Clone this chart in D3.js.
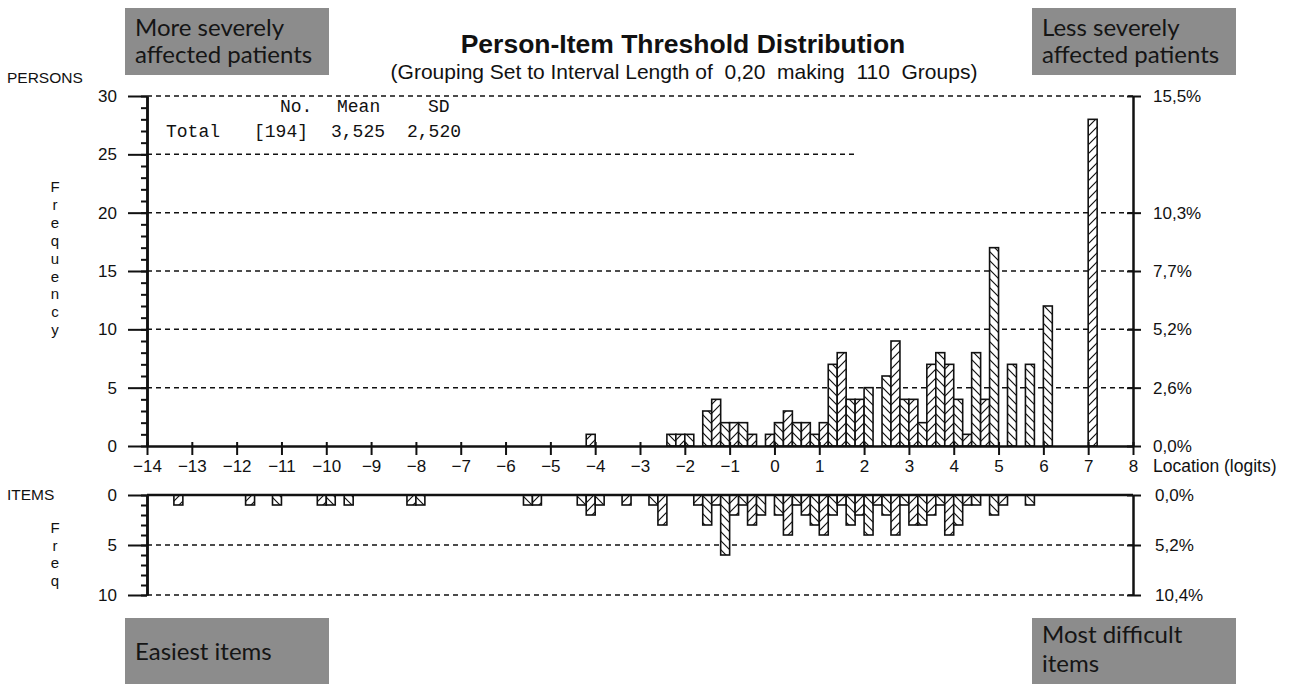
<!DOCTYPE html>
<html>
<head>
<meta charset="utf-8">
<script src="https://cdn.jsdelivr.net/npm/d3@7"></script>
<style>
  body { margin: 0; background: #fff; }
  svg text { font-family: "Liberation Sans", Arial, sans-serif; fill: #111; }
  .axis path, .axis line { stroke: #111; }
  .axis text { font-size: 17px; }
  text.mono { font-family: "Liberation Mono", "DejaVu Sans Mono", monospace; }
  text.note { font-family: Lato, "Open Sans", sans-serif; fill: #151515; }
</style>
</head>
<body>
<div id="chart"></div>
<script>
// lower edge (logits) of each 0,20 wide group and the number of persons in it
var personLocations = [-4.2, -2.4, -2.2, -2.0, -1.6, -1.4, -1.2, -1.0, -0.8, -0.6, -0.2, 0, 0.2, 0.4, 0.6, 0.8,
                       1.0, 1.2, 1.4, 1.6, 1.8, 2.0, 2.4, 2.6, 2.8, 3.0, 3.2, 3.4, 3.6, 3.8, 4.0, 4.2, 4.4, 4.6,
                       4.8, 5.2, 5.6, 6.0, 7.0];
var personCounts    = [1, 1, 1, 1, 3, 4, 2, 2, 2, 1, 1, 2, 3, 2, 2, 1,
                       2, 7, 8, 4, 4, 5, 6, 9, 4, 4, 2, 7, 8, 7, 4, 1, 8, 4,
                       17, 7, 7, 12, 28];

// same for the item thresholds
var itemLocations = [-13.4, -11.8, -11.2, -10.2, -10.0, -9.6, -8.2, -8.0, -5.6, -5.4, -4.4, -4.2, -4.0, -3.4,
                     -2.8, -2.6, -1.8, -1.6, -1.4, -1.2, -1.0, -0.8, -0.6, -0.4, 0, 0.2, 0.4, 0.6, 0.8, 1.0,
                     1.2, 1.4, 1.6, 1.8, 2.0, 2.2, 2.4, 2.6, 2.8, 3.0, 3.2, 3.4, 3.6, 3.8, 4.0, 4.2, 4.4,
                     4.8, 5.0, 5.6];
var itemCounts    = [1, 1, 1, 1, 1, 1, 1, 1, 1, 1, 1, 2, 1, 1,
                     1, 3, 1, 3, 1, 6, 2, 1, 3, 2, 2, 4, 1, 2, 3, 4,
                     2, 1, 3, 2, 4, 1, 2, 4, 1, 3, 3, 2, 1, 4, 3, 1, 1,
                     2, 1, 1];

var groupWidth = 0.2;
var locationTicks = d3.range(-14, 9);
var personTicks = [0, 5, 10, 15, 20, 25, 30];
var personPctTicks = [0, 5, 10, 15, 20, 30];
var personPctLabels = ["0,0%", "2,6%", "5,2%", "7,7%", "10,3%", "15,5%"];
var itemTicks = [0, 5, 10];
var itemPctLabels = ["0,0%", "5,2%", "10,4%"];

var W = 1291, H = 684;

var svg = d3.select("#chart").append("svg")
    .attr("width", W)
    .attr("height", H);

svg.append("rect").attr("width", W).attr("height", H).attr("fill", "#fff");

// scales
var x = d3.scaleLinear().domain([-14, 8]).range([147, 1133]);
var yP = d3.scaleLinear().domain([0, 30]).range([446, 96]);
var yI = d3.scaleLinear().domain([0, 10]).range([495, 595]);

// hatch patterns, alternating direction from group to group
var defs = svg.append("defs");
function hatch(id, d) {
  var p = defs.append("pattern").attr("id", id)
      .attr("patternUnits", "userSpaceOnUse")
      .attr("width", 9).attr("height", 9);
  p.append("rect").attr("width", 9).attr("height", 9).attr("fill", "#fff");
  p.append("path").attr("d", d).attr("stroke", "#111").attr("stroke-width", 1.2);
}
hatch("hatchF", "M0,9L9,0M-2,2L2,-2M7,11L11,7");
hatch("hatchB", "M0,0L9,9M-2,7L2,11M7,-2L11,2");
function hatchFor(loc) {
  var idx = Math.round((loc + 14) / groupWidth);
  return idx % 2 ? "url(#hatchF)" : "url(#hatchB)";
}

// dashed grid lines
var dash = "5,4";
svg.append("g").selectAll("line")
  .data(personTicks.filter(function(d) { return d > 0; }))
  .join("line")
    .attr("x1", x(-14))
    .attr("x2", function(d) { return d == 25 ? 858 : x(8); })
    .attr("y1", function(d) { return yP(d); })
    .attr("y2", function(d) { return yP(d); })
    .attr("stroke", "#111").attr("stroke-width", 1.5)
    .attr("stroke-dasharray", dash);

svg.append("g").selectAll("line")
  .data(itemTicks.filter(function(d) { return d > 0; }))
  .join("line")
    .attr("x1", x(-14)).attr("x2", x(8))
    .attr("y1", function(d) { return yI(d); })
    .attr("y2", function(d) { return yI(d); })
    .attr("stroke", "#111").attr("stroke-width", 1.5)
    .attr("stroke-dasharray", dash);

// person bars
svg.append("g").selectAll("rect")
  .data(d3.zip(personLocations, personCounts))
  .join("rect")
    .attr("x", function(d) { return x(d[0]); })
    .attr("width", function(d) { return x(d[0] + groupWidth) - x(d[0]); })
    .attr("y", function(d) { return yP(d[1]); })
    .attr("height", function(d) { return yP(0) - yP(d[1]); })
    .attr("fill", function(d) { return hatchFor(d[0]); })
    .attr("stroke", "#111").attr("stroke-width", 1.6);

// item bars hang down from zero
svg.append("g").selectAll("rect")
  .data(d3.zip(itemLocations, itemCounts))
  .join("rect")
    .attr("x", function(d) { return x(d[0]); })
    .attr("width", function(d) { return x(d[0] + groupWidth) - x(d[0]); })
    .attr("y", yI(0))
    .attr("height", function(d) { return yI(d[1]) - yI(0); })
    .attr("fill", function(d) { return hatchFor(d[0]); })
    .attr("stroke", "#111").attr("stroke-width", 1.6);

// axes
function styleAxis(g, w) {
  g.attr("class", "axis");
  g.select(".domain").attr("stroke-width", w);
  g.selectAll(".tick line").attr("stroke-width", 2);
  g.selectAll(".tick text").attr("font-family", null).attr("font-size", null);
}

// left, persons
svg.append("g").attr("transform", "translate(" + x(-14) + ",0)")
  .call(d3.axisLeft(yP).tickValues(d3.range(0, 31)).tickSize(6).tickSizeOuter(0).tickFormat(""))
  .call(styleAxis, 2.5);
svg.append("g").attr("transform", "translate(" + x(-14) + ",0)")
  .call(d3.axisLeft(yP).tickValues(personTicks).tickSize(19).tickSizeOuter(0).tickPadding(11))
  .call(styleAxis, 2.5);

// right, persons %
svg.append("g").attr("transform", "translate(" + x(8) + ",0)")
  .call(d3.axisRight(yP).tickValues(personPctTicks).tickSize(8).tickSizeOuter(0).tickPadding(12)
    .tickFormat(function(d) { return personPctLabels[personPctTicks.indexOf(d)]; }))
  .call(styleAxis, 2.5)
  .selectAll(".tick line").attr("x1", -6);

// location axis
svg.append("g").attr("transform", "translate(0," + yP(0) + ")")
  .call(d3.axisBottom(x).tickValues(locationTicks).tickSize(9).tickSizeOuter(0).tickPadding(5))
  .call(styleAxis, 2.5)
  .selectAll(".tick line").attr("y1", -4);

svg.append("text")
  .attr("x", 1153).attr("y", 472)
  .style("font-size", "17.5px")
  .text("Location (logits)");

// items panel
svg.append("g").attr("transform", "translate(" + x(-14) + ",0)")
  .call(d3.axisLeft(yI).tickValues(d3.range(0, 11)).tickSize(6).tickSizeOuter(0).tickFormat(""))
  .call(styleAxis, 2.5);
svg.append("g").attr("transform", "translate(" + x(-14) + ",0)")
  .call(d3.axisLeft(yI).tickValues(itemTicks).tickSize(19).tickSizeOuter(0).tickPadding(11))
  .call(styleAxis, 2.5);
svg.append("g").attr("transform", "translate(" + x(8) + ",0)")
  .call(d3.axisRight(yI).tickValues(itemTicks).tickSize(8).tickSizeOuter(0).tickPadding(14)
    .tickFormat(function(d) { return itemPctLabels[itemTicks.indexOf(d)]; }))
  .call(styleAxis, 2.5)
  .selectAll(".tick line").attr("x1", -6);
svg.append("line")
  .attr("x1", x(-14)).attr("x2", x(8))
  .attr("y1", yI(0)).attr("y2", yI(0))
  .attr("stroke", "#111").attr("stroke-width", 2.5);

// side labels
svg.append("text").attr("x", 7).attr("y", 83).style("font-size", "15.5px").text("PERSONS");
svg.append("text").attr("x", 7).attr("y", 500).style("font-size", "15.5px").text("ITEMS");

function verticalWord(word, x0, y0, step) {
  var t = svg.append("text").attr("x", x0).attr("y", y0)
      .style("font-size", "15px").attr("text-anchor", "middle");
  word.split("").forEach(function(c, i) {
    t.append("tspan").attr("x", x0).attr("dy", i ? step : 0).text(c);
  });
}
verticalWord("Frequency", 55, 192, 17.9);
verticalWord("Freq", 55, 533, 17.7);

// title
svg.append("text")
  .attr("x", 683).attr("y", 53)
  .attr("text-anchor", "middle")
  .style("font-size", "26.5px").style("font-weight", "bold")
  .text("Person-Item Threshold Distribution");
svg.append("text")
  .attr("x", 684).attr("y", 79)
  .attr("text-anchor", "middle")
  .style("font-size", "21px")
  .style("white-space", "pre")
  .text("(Grouping Set to Interval Length of  0,20  making  110  Groups)");

// summary block
var stats = [
  ["No.", 280, 112], ["Mean", 337, 112], ["SD", 428, 112],
  ["Total", 166, 137], ["[194]", 254, 137], ["3,525", 331, 137], ["2,520", 407, 137]
];
svg.append("g").selectAll("text")
  .data(stats)
  .join("text")
    .attr("class", "mono")
    .attr("x", function(d) { return d[1]; })
    .attr("y", function(d) { return d[2]; })
    .style("font-size", "18px")
    .text(function(d) { return d[0]; });

// grey annotation boxes
var notes = [
  {x: 125, y: 8, h: 67, lines: ["More severely", "affected patients"], ty: [36, 63]},
  {x: 1032, y: 8, h: 67, lines: ["Less severely", "affected patients"], ty: [36, 63]},
  {x: 125, y: 618, h: 66, lines: ["Easiest items"], ty: [660]},
  {x: 1032, y: 618, h: 66, lines: ["Most difficult", "items"], ty: [643, 672]}
];
var ng = svg.append("g").selectAll("g").data(notes).join("g");
ng.append("rect")
  .attr("x", function(d) { return d.x; })
  .attr("y", function(d) { return d.y; })
  .attr("width", 204)
  .attr("height", function(d) { return d.h; })
  .attr("fill", "#8c8c8c");
ng.each(function(d) {
  var g = d3.select(this);
  d.lines.forEach(function(l, i) {
    g.append("text")
      .attr("class", "note")
      .attr("x", d.x + 10).attr("y", d.ty[i])
      .style("font-size", "24px")
      .text(l);
  });
});
</script>
</body>
</html>
